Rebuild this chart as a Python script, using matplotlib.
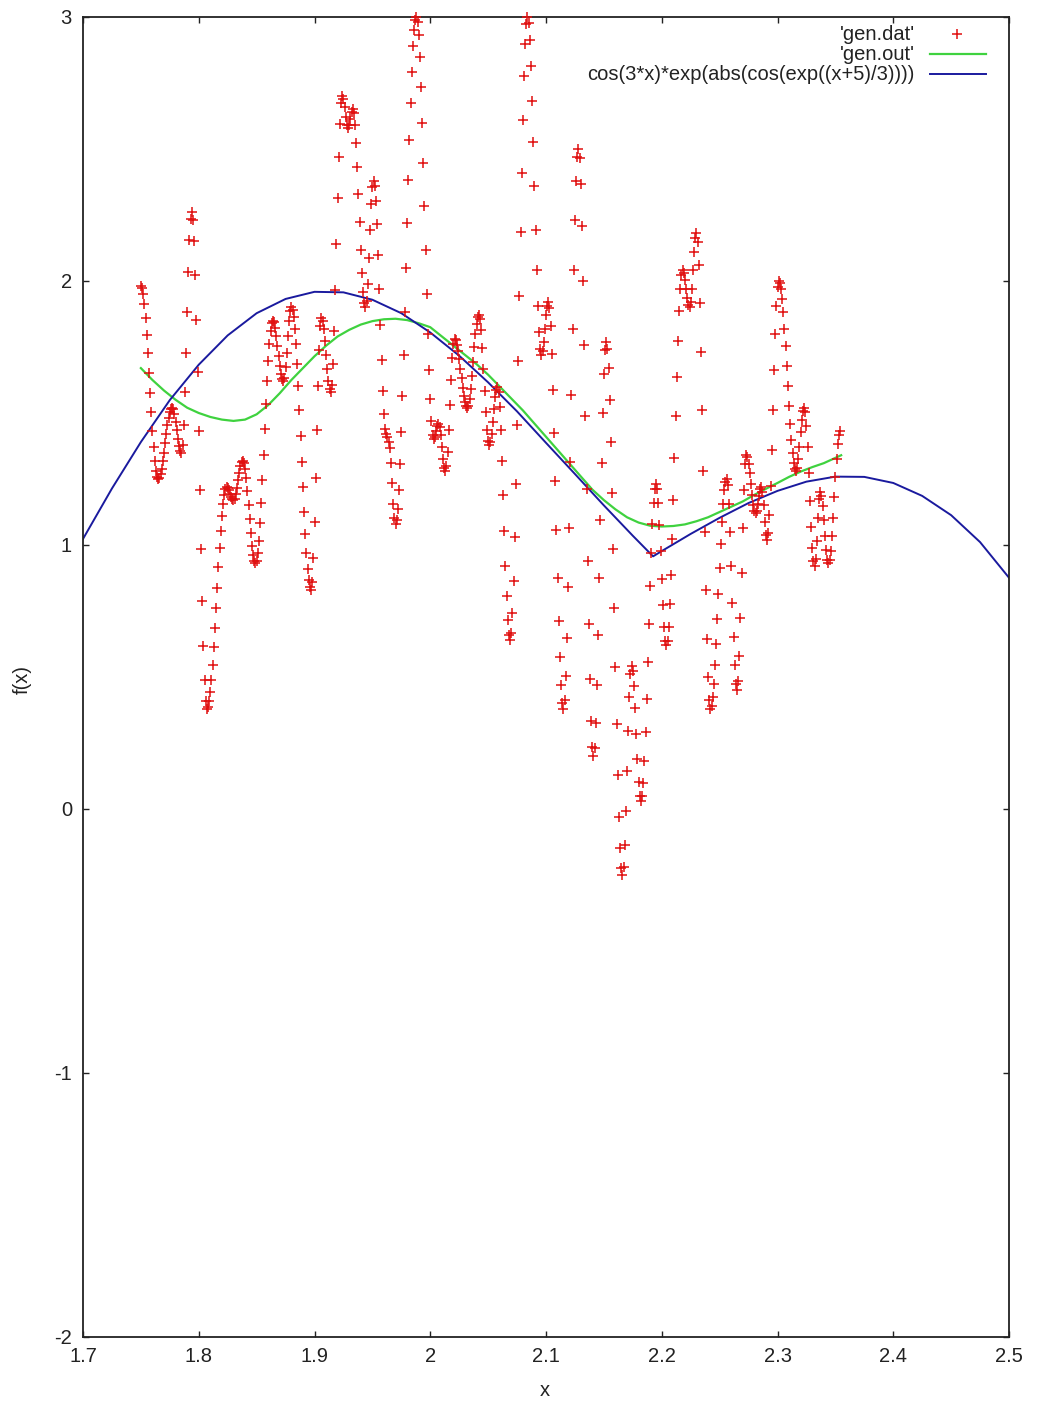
import numpy as np
import matplotlib
matplotlib.use("Agg")
import matplotlib.pyplot as plt
from matplotlib.lines import Line2D

plt.rcParams['font.family'] = ['Liberation Sans', 'DejaVu Sans']

# ---------------- data ----------------
# 'gen.dat' : samples on a regular x grid starting at 1.75 with step 0.001
dat_x_start = 1.750
dat_x_step = 0.001
dat_y = [
    1.980,
    1.972, 1.949, 1.911, 1.860, 1.797, 1.728, 1.653, 1.577, 1.502, 1.432, 1.370, 1.319, 1.281, 1.258, 1.250,
    1.255, 1.268, 1.289, 1.318, 1.350, 1.385, 1.420, 1.453, 1.481, 1.502, 1.515, 1.520,
    1.514, 1.495, 1.467, 1.435, 1.403, 1.375, 1.356, 1.350,
    1.377, 1.456, 1.578, 1.726, 1.884, 2.033, 2.154, 2.233, 2.260,
    2.232, 2.151, 2.021, 1.852, 1.655, 1.433, 1.207, 0.985, 0.788, 0.619, 0.489, 0.408, 0.380,
    0.387, 0.409, 0.443, 0.489, 0.547, 0.613, 0.685, 0.761, 0.839, 0.915, 0.987, 1.053, 1.111, 1.157, 1.191, 1.212, 1.220,
    1.217, 1.208, 1.195, 1.183, 1.173, 1.170,
    1.176, 1.192, 1.216, 1.245, 1.274, 1.298, 1.314, 1.320,
    1.312, 1.289, 1.253, 1.206, 1.153, 1.097, 1.044, 0.997, 0.961, 0.938, 0.930,
    0.940, 0.970, 1.017, 1.082, 1.160, 1.247, 1.342, 1.438, 1.533, 1.620, 1.698, 1.763, 1.810, 1.840, 1.850,
    1.843, 1.823, 1.792, 1.755, 1.715, 1.677, 1.647, 1.627, 1.620,
    1.634, 1.673, 1.729, 1.791, 1.847, 1.886, 1.900,
    1.891, 1.864, 1.820, 1.761, 1.687, 1.604, 1.512, 1.414, 1.316, 1.218, 1.126, 1.043, 0.969, 0.910, 0.866, 0.840, 0.830,
    0.861, 0.951, 1.088, 1.255, 1.435, 1.603, 1.739, 1.829, 1.860,
    1.849, 1.819, 1.773, 1.720, 1.667, 1.621, 1.591, 1.580,
    1.607, 1.686, 1.811, 1.966, 2.140, 2.314, 2.469, 2.594, 2.673, 2.700,
    2.689, 2.659, 2.621, 2.591, 2.580,
    2.590, 2.615, 2.640, 2.650,
    2.635, 2.591, 2.521, 2.431, 2.328, 2.222, 2.119, 2.029, 1.959, 1.915, 1.900,
    1.924, 1.990, 2.087, 2.193, 2.290, 2.356, 2.380,
    2.361, 2.304, 2.215, 2.100, 1.968, 1.832, 1.700, 1.585, 1.496, 1.439, 1.420,
    1.410, 1.390,
    1.369, 1.312, 1.235, 1.157, 1.101, 1.080,
    1.095, 1.138, 1.210, 1.307, 1.427, 1.565, 1.718, 1.881, 2.050, 2.219, 2.382, 2.535, 2.673, 2.793, 2.890, 2.950, 2.990, 3.000,
    2.982, 2.931, 2.848, 2.736, 2.600, 2.448, 2.283, 2.117, 1.952, 1.800, 1.664, 1.552, 1.469, 1.418, 1.400,
    1.409, 1.430, 1.451, 1.460,
    1.448, 1.415, 1.370, 1.325, 1.292, 1.280,
    1.299, 1.353, 1.435, 1.530, 1.626, 1.707, 1.761, 1.780,
    1.775, 1.759, 1.735, 1.704, 1.668, 1.632, 1.596, 1.565, 1.541, 1.525, 1.520,
    1.528, 1.553, 1.592, 1.641, 1.695, 1.749, 1.798, 1.837, 1.862, 1.870,
    1.855, 1.813, 1.747, 1.668, 1.582, 1.502, 1.437, 1.395, 1.380,
    1.391, 1.421, 1.466, 1.514, 1.559, 1.589, 1.600,
    1.581, 1.524, 1.435, 1.320, 1.188, 1.052, 0.920, 0.805, 0.716, 0.659, 0.640,
    0.666, 0.741, 0.864, 1.029, 1.230, 1.454, 1.697, 1.943, 2.186, 2.410, 2.611, 2.776, 2.899, 2.974, 3.000,
    2.978, 2.914, 2.813, 2.680, 2.525, 2.360, 2.195, 2.040, 1.907, 1.806, 1.742, 1.720,
    1.733, 1.770, 1.820, 1.870, 1.907, 1.920,
    1.897, 1.831, 1.724, 1.586, 1.424, 1.242, 1.058, 0.876, 0.714, 0.576, 0.469, 0.403, 0.380,
    0.412, 0.503, 0.649, 0.840, 1.063, 1.313, 1.567, 1.817, 2.040, 2.231, 2.377, 2.468, 2.500,
    2.465, 2.367, 2.208, 2.001, 1.759, 1.488, 1.212, 0.941, 0.699, 0.492, 0.333, 0.234, 0.200,
    0.231, 0.324, 0.470, 0.658, 0.874, 1.096, 1.312, 1.500, 1.646, 1.739, 1.770,
    1.744, 1.669, 1.550, 1.390, 1.198, 0.984, 0.760, 0.536, 0.322, 0.130, -0.030, -0.149, -0.224, -0.250,
    -0.220, -0.135, -0.006, 0.145, 0.296, 0.425, 0.510, 0.540,
    0.521, 0.466, 0.382, 0.285, 0.188, 0.104, 0.049, 0.030,
    0.048, 0.100, 0.182, 0.290, 0.416, 0.558, 0.702, 0.844, 0.970, 1.078, 1.160, 1.212, 1.230,
    1.212, 1.159, 1.077, 0.978, 0.872, 0.772, 0.691, 0.638, 0.620,
    0.638, 0.691, 0.775, 0.887, 1.022, 1.172, 1.330, 1.488, 1.638, 1.773, 1.885, 1.969, 2.022, 2.040,
    2.031, 2.005, 1.970, 1.935, 1.909, 1.900,
    1.919, 1.970, 2.040, 2.110, 2.161, 2.180,
    2.149, 2.059, 1.917, 1.730, 1.512, 1.280, 1.048, 0.830, 0.643, 0.501, 0.411, 0.380,
    0.391, 0.424, 0.475, 0.544, 0.626, 0.718, 0.815, 0.912, 1.004, 1.086, 1.155, 1.207, 1.239, 1.250,
    1.226, 1.156, 1.050, 0.920, 0.780, 0.650, 0.544, 0.474, 0.450,
    0.484, 0.580, 0.725, 0.895, 1.065, 1.210, 1.306, 1.340,
    1.332, 1.308, 1.272, 1.230, 1.188, 1.152, 1.128, 1.120,
    1.130, 1.155, 1.186, 1.211, 1.220,
    1.201, 1.151, 1.089, 1.039, 1.020,
    1.044, 1.113, 1.222, 1.358, 1.510, 1.662, 1.798, 1.907, 1.976, 2.000,
    1.992, 1.969, 1.932, 1.881, 1.820, 1.752, 1.677, 1.603, 1.528, 1.460, 1.399, 1.348, 1.311, 1.288, 1.280,
    1.292, 1.325, 1.373, 1.427, 1.475, 1.508, 1.520,
    1.502, 1.450, 1.370, 1.272, 1.168, 1.070, 0.990, 0.938, 0.920,
    0.947, 1.017, 1.103, 1.173, 1.200,
    1.186, 1.149, 1.095, 1.035, 0.981, 0.943, 0.930,
    0.942, 0.978, 1.033, 1.103, 1.180, 1.258, 1.327, 1.383, 1.418, 1.430,
]

# 'gen.out'
out_x = [1.750, 1.760, 1.770, 1.780, 1.790, 1.800, 1.810, 1.820, 1.830, 1.840, 1.850, 1.860,
         1.870, 1.880, 1.890, 1.900, 1.910, 1.920, 1.930, 1.940, 1.950, 1.960, 1.970, 1.980,
         1.990, 2.000, 2.010, 2.020, 2.030, 2.040, 2.050, 2.060, 2.070, 2.080, 2.090, 2.100,
         2.110, 2.120, 2.130, 2.140, 2.150, 2.160, 2.170, 2.180, 2.190, 2.200, 2.210, 2.220,
         2.230, 2.240, 2.250, 2.260, 2.270, 2.280, 2.290, 2.300, 2.310, 2.320, 2.330, 2.340,
         2.350, 2.355]
out_y = [1.670, 1.625, 1.585, 1.550, 1.520, 1.500, 1.485, 1.475, 1.470, 1.475, 1.495, 1.530,
         1.575, 1.625, 1.670, 1.715, 1.755, 1.790, 1.815, 1.835, 1.848, 1.855, 1.857, 1.852,
         1.840, 1.825, 1.790, 1.755, 1.720, 1.685, 1.645, 1.600, 1.555, 1.510, 1.460, 1.410,
         1.360, 1.310, 1.260, 1.210, 1.170, 1.135, 1.105, 1.085, 1.073, 1.070, 1.072, 1.078,
         1.090, 1.105, 1.125, 1.145, 1.165, 1.190, 1.213, 1.235, 1.258, 1.278, 1.295, 1.310,
         1.330, 1.340]

# cos(3*x)*exp(abs(cos(exp((x+5)/3))))
fn_x = [1.700, 1.725, 1.750, 1.775, 1.800, 1.825, 1.850, 1.875, 1.900, 1.925, 1.950, 1.975,
        2.000, 2.025, 2.050, 2.075, 2.100, 2.125, 2.150, 2.175, 2.1925, 2.200, 2.225,
        2.250, 2.275, 2.300, 2.325, 2.350, 2.375, 2.400, 2.425, 2.450, 2.475, 2.500]
fn_y = [1.023, 1.214, 1.390, 1.549, 1.683, 1.794, 1.878, 1.932, 1.959, 1.957, 1.929, 1.878,
        1.805, 1.717, 1.616, 1.506, 1.387, 1.269, 1.150, 1.035, 0.957, 0.977, 1.042,
        1.103, 1.159, 1.205, 1.240, 1.259, 1.258, 1.235, 1.186, 1.113, 1.011, 0.876]

x_ticks = [1.7, 1.8, 1.9, 2.0, 2.1, 2.2, 2.3, 2.4, 2.5]
x_tick_labels = ["1.7", "1.8", "1.9", "2", "2.1", "2.2", "2.3", "2.4", "2.5"]
y_ticks = [-2, -1, 0, 1, 2, 3]
y_tick_labels = ["-2", "-1", "0", "1", "2", "3"]

labels = ["'gen.dat'", "'gen.out'", "cos(3*x)*exp(abs(cos(exp((x+5)/3))))"]

# ---------------- figure ----------------
W, H = 1038, 1403
FS = 14.5
fig = plt.figure(figsize=(W / 100, H / 100), dpi=100)
ax = fig.add_axes([83 / W, (H - 1337) / H, (1009 - 83) / W, (1337 - 17) / H])

red = '#e01010'
green = '#3fd23f'
blue = '#1a1a9e'
txt = '#222222'

dat_x = dat_x_start + dat_x_step * np.arange(len(dat_y))
ax.plot(dat_x, dat_y, linestyle='none', marker='+', markersize=7.5,
        markeredgewidth=1.1, color=red, clip_on=False, zorder=3)
ax.plot(out_x, out_y, color=green, linewidth=1.6, zorder=2)
ax.plot(fn_x, fn_y, color=blue, linewidth=1.4, zorder=2)

ax.set_xlim(1.7, 2.5)
ax.set_ylim(-2, 3)
ax.set_xticks(x_ticks)
ax.set_xticklabels(x_tick_labels)
ax.set_yticks(y_ticks)
ax.set_yticklabels(y_tick_labels)
ax.tick_params(direction='in', length=4, width=1, top=True, right=True,
               labelsize=FS, colors=txt)
ax.tick_params(axis='x', pad=7)
ax.tick_params(axis='y', pad=8)
for s in ax.spines.values():
    s.set_linewidth(1.3)
    s.set_color(txt)

def fx(px):
    return px / W

def fy(py):
    return 1 - py / H

fig.text(fx(545), fy(1390), 'x', ha='center', va='center', fontsize=FS, color=txt)
fig.text(fx(22), fy(680), 'f(x)', ha='center', va='center', rotation=90,
         fontsize=FS, color=txt)

# legend (gnuplot style: label right-aligned, sample to the right)
rows = [34, 54, 74]
for lab, py in zip(labels, rows):
    fig.text(fx(915), fy(py), lab, ha='right', va='center', fontsize=FS, color=txt)
fig.add_artist(Line2D([fx(957)], [fy(rows[0])], linestyle='none', marker='+',
                      markersize=7.5, markeredgewidth=1.1, color=red))
fig.add_artist(Line2D([fx(930), fx(986)], [fy(rows[1]), fy(rows[1])],
                      color=green, linewidth=1.6))
fig.add_artist(Line2D([fx(930), fx(986)], [fy(rows[2]), fy(rows[2])],
                      color=blue, linewidth=1.4))

fig.savefig('out.png', dpi=100, facecolor='white')
